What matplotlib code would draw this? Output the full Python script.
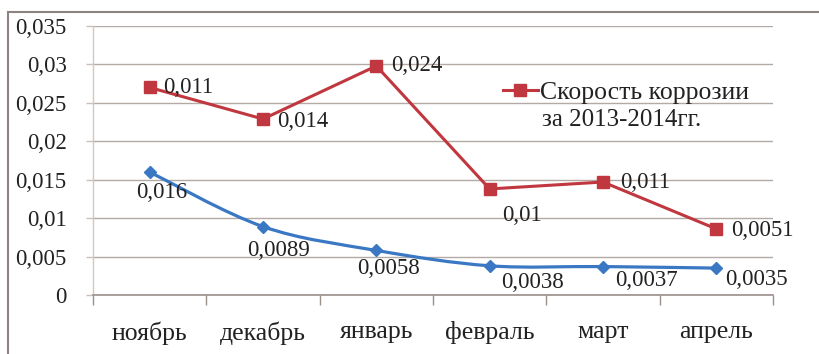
import matplotlib
matplotlib.use("Agg")
import matplotlib.pyplot as plt
from matplotlib.path import Path
from matplotlib.patches import PathPatch
from matplotlib.lines import Line2D
from matplotlib.ticker import FixedLocator, FuncFormatter

plt.rcParams['font.family'] = ['Liberation Serif', 'DejaVu Serif']

# Data
months = ["ноябрь", "декабрь", "январь", "февраль", "март", "апрель"]
rate_2013_2014 = [0.027, 0.0229, 0.0298, 0.0138, 0.0147, 0.0086]
rate_2013_2014_labels = ["0,011", "0,014", "0,024", "0,01", "0,011", "0,0051"]
rate_other = [0.016, 0.0089, 0.0058, 0.0038, 0.0037, 0.0035]
legend_label_1 = "Скорость коррозии"
legend_label_2 = "за 2013-2014гг."
y_ticks = [0, 0.005, 0.01, 0.015, 0.02, 0.025, 0.03, 0.035]

RED = "#c0373f"
BLUE = "#3a78c4"
GRID = "#b3aaa6"
FS = 16.5       # numbers
FS_TEXT = 18.5  # month names and legend

# label offsets (points)
red_offsets = [(10, 0), (10, -2), (11, 0), (9, -19), (12, 0), (11, -1)]
red_align = ["left", "left", "left", "left", "left", "left"]
blue_offsets = [(9, -15), (11, -17), (9, -13), (31, -12), (31, -10), (6, -8)]
blue_align = ["center", "center", "center", "center", "center", "left"]


def fmt(v):
    s = f"{v:g}"
    return s.replace(".", ",")


def smooth_path(xs, ys):
    """Catmull-Rom style curve through the points as cubic Bezier segments."""
    pts = list(zip(xs, ys))
    verts = [pts[0]]
    codes = [Path.MOVETO]
    n = len(pts)
    for i in range(n - 1):
        p0 = pts[i - 1] if i > 0 else pts[i]
        p1 = pts[i]
        p2 = pts[i + 1]
        p3 = pts[i + 2] if i + 2 < n else pts[i + 1]
        c1 = (p1[0] + (p2[0] - p0[0]) / 6.0, p1[1] + (p2[1] - p0[1]) / 6.0)
        c2 = (p2[0] - (p3[0] - p1[0]) / 6.0, p2[1] - (p3[1] - p1[1]) / 6.0)
        verts += [c1, c2, p2]
        codes += [Path.CURVE4] * 3
    return Path(verts, codes)


fig = plt.figure(figsize=(8.19, 3.54), dpi=100)
ax = fig.add_axes([93 / 819, 1 - 295 / 354, 680 / 819, 269 / 354])

x = list(range(len(months)))

# smoothed blue series
ax.add_patch(PathPatch(smooth_path(x, rate_other), fill=False,
                       edgecolor=BLUE, lw=2.3, zorder=3))
ax.plot(x, rate_other, linestyle="none", marker="D", markersize=6,
        color=BLUE, zorder=4)

# red series
red_line, = ax.plot(x, rate_2013_2014, color=RED, lw=2.2, marker="s",
                    markersize=9, zorder=5)

for xi, yi, lab, off, ha in zip(x, rate_2013_2014, rate_2013_2014_labels,
                                red_offsets, red_align):
    ax.annotate(lab, (xi, yi), xytext=off, textcoords="offset points",
                ha=ha, va="center", fontsize=FS, color="#222222", zorder=6)

for xi, yi, off, ha in zip(x, rate_other, blue_offsets, blue_align):
    ax.annotate(fmt(yi), (xi, yi), xytext=off, textcoords="offset points",
                ha=ha, va="center", fontsize=FS, color="#222222", zorder=6)

ax.set_xlim(-0.5, len(months) - 0.5)
ax.set_ylim(0, 0.035)
ax.yaxis.set_major_locator(FixedLocator(y_ticks))
ax.yaxis.set_major_formatter(FuncFormatter(lambda v, p: fmt(round(v, 4))))
ax.grid(axis="y", color=GRID, lw=1.0, zorder=0)
ax.set_axisbelow(True)

ax.set_xticks(x)
ax.set_xticklabels(months, fontsize=FS_TEXT)
ax.set_xticks([i - 0.5 for i in range(len(months) + 1)], minor=True)
ax.tick_params(axis="x", which="major", length=0, pad=19, labelcolor="#222222")
ax.tick_params(axis="x", which="minor", length=7, width=1.0, color="#9a908c",
               direction="out")
ax.tick_params(axis="y", length=5, width=1.0, color="#c8c0bc", pad=14,
               labelsize=FS, labelcolor="#222222")

for side in ("top", "right"):
    ax.spines[side].set_visible(False)
ax.spines["bottom"].set_color("#9a908c")
ax.spines["bottom"].set_linewidth(1.2)
ax.spines["left"].set_color("#d0c8c4")
ax.spines["left"].set_linewidth(1.0)

# legend (second line of the label aligned under the first)
leg = ax.legend([Line2D([], [], color=RED, lw=2.2, marker="s", markersize=9)],
                [legend_label_1], loc="center left",
                bbox_to_anchor=(0.603, 0.751), frameon=False,
                fontsize=FS_TEXT, borderpad=0, borderaxespad=0,
                handlelength=1.35, handletextpad=0.1)
for t in leg.get_texts():
    t.set_color("#222222")
fig.canvas.draw()
first_line = leg.get_texts()[0].get_window_extent()
x_left = ax.transAxes.inverted().transform((first_line.x0, 0))[0]
ax.text(x_left + 0.002, 0.651, legend_label_2, transform=ax.transAxes,
        fontsize=FS_TEXT - 0.5, va="center", ha="left", color="#222222")

# outer chart frame
fig.add_artist(Line2D([8 / 819, 1.0], [1 - 12 / 354, 1 - 12 / 354],
                      transform=fig.transFigure, color="#8c8480", lw=1.5))
fig.add_artist(Line2D([8 / 819, 8 / 819], [0.0, 1 - 12 / 354],
                      transform=fig.transFigure, color="#8c8480", lw=1.5))

fig.savefig("out.png", dpi=100)
